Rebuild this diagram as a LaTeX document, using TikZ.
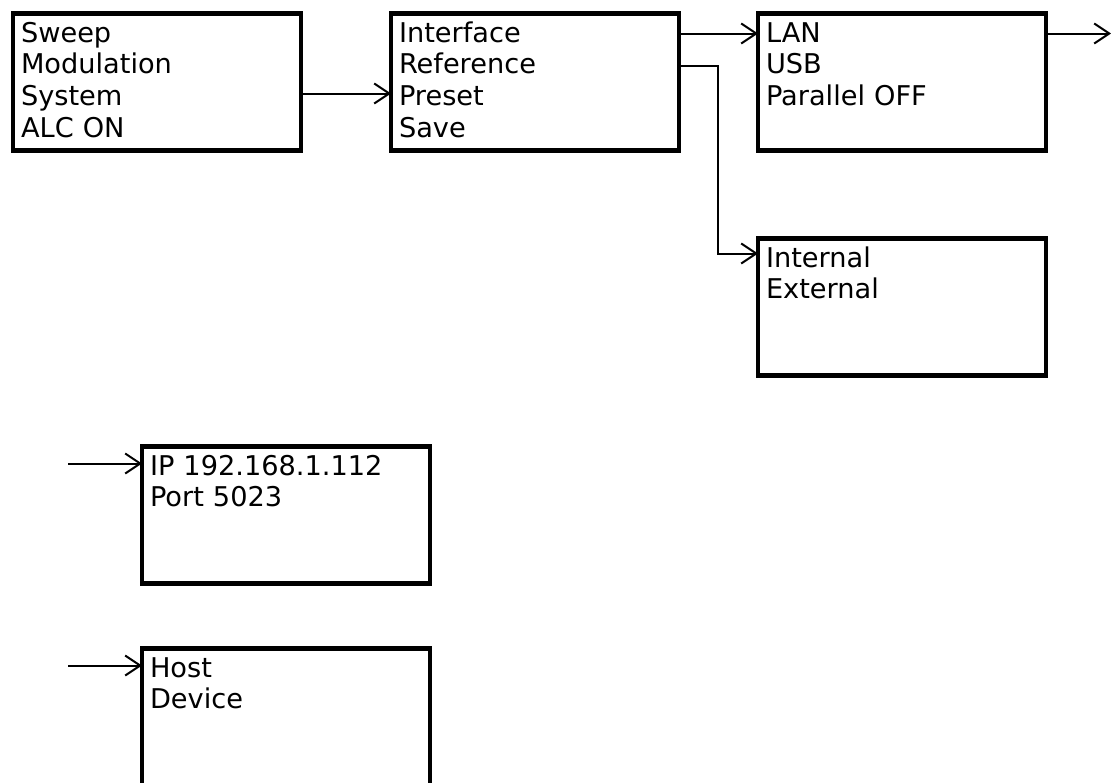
\documentclass[tikz,border=0pt]{standalone}
\usepackage{fontspec}
\setmainfont{DejaVu Sans}
\usetikzlibrary{arrows.meta,positioning}

\begin{document}
\begin{tikzpicture}[
  box/.style={rectangle, draw, line width=2.3pt, outer sep=0pt, minimum width=144pt, minimum height=68.5pt,
    inner xsep=4pt, inner ysep=3pt, text width=136pt, text height=11.25pt, text depth=51.25pt,
    align=left, anchor=north west, font=\fontsize{13.6pt}{15.9pt}\selectfont},
  arr/.style={-{Straight Barb[length=7.5pt, width=10pt]}, line width=1pt},
  node distance=45pt
]
\useasboundingbox (0,0) rectangle (555.5pt,-391pt);

\node[box] (sys) at (6.5pt,-6.75pt) {Sweep\\Modulation\\System\\ALC ON};
\node[box, right=of sys] (menu) {Interface\\Reference\\Preset\\Save};
\node[box, right=39.5pt of menu] (lan) {LAN\\USB\\Parallel OFF};
\node[box, below=44pt of lan] (ref) {Internal\\External};
\node[box, below=148pt of sys.south west, anchor=north west, xshift=64.5pt] (ip) {IP 192.168.1.112\\Port 5023};
\node[box, below=32.5pt of ip] (usb) {Host\\Device};

\coordinate (out) at ([shift={(32.5pt,-10pt)}]lan.north east);
\coordinate (ipin) at ([shift={(-37pt,-8.5pt)}]ip.north west);
\coordinate (usbin) at ([shift={(-37pt,-8.5pt)}]usb.north west);

\draw[arr] ([yshift=-40pt]sys.north east) -- ([yshift=-40pt]menu.north west);
\draw[arr] ([yshift=-10pt]menu.north east) -- ([yshift=-10pt]lan.north west);
\draw[arr] ([yshift=-26pt]menu.north east) -- ++(19.5pt,0) |- ([yshift=-7.5pt]ref.north west);
\draw[arr] ([yshift=-10pt]lan.north east) -- (out);
\draw[arr] (ipin) -- ([yshift=-8.5pt]ip.north west);
\draw[arr] (usbin) -- ([yshift=-8.5pt]usb.north west);
\end{tikzpicture}
\end{document}
